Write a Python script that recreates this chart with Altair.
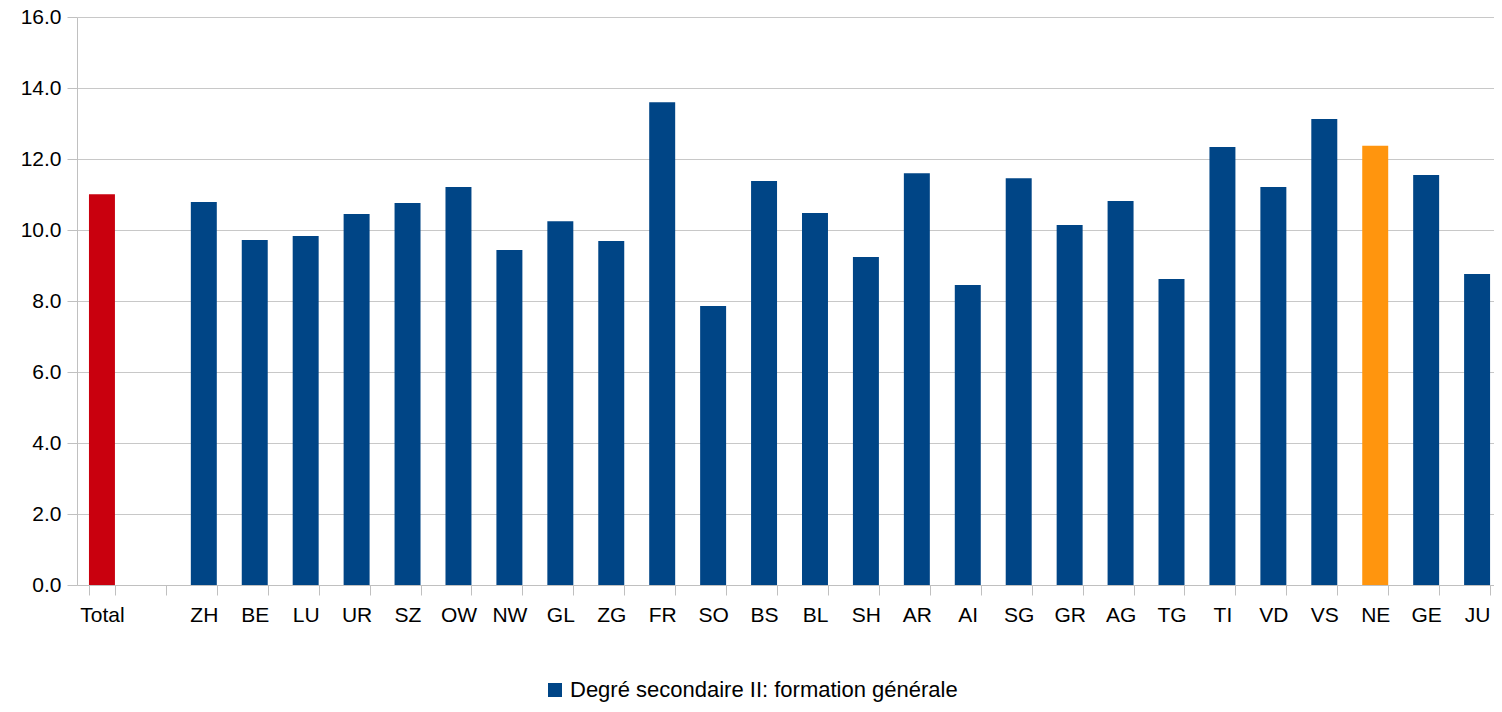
import altair as alt
import pandas as pd

categories = ["Total", " ", "ZH", "BE", "LU", "UR", "SZ", "OW", "NW", "GL", "ZG", "FR", "SO",
              "BS", "BL", "SH", "AR", "AI", "SG", "GR", "AG", "TG", "TI", "VD", "VS", "NE", "GE", "JU"]
values = [11.01, None, 10.79, 9.72, 9.83, 10.45, 10.76, 11.21, 9.44, 10.25, 9.69, 13.60, 7.86,
          11.38, 10.48, 9.24, 11.60, 8.45, 11.46, 10.14, 10.82, 8.62, 12.34, 11.21, 13.13, 12.37, 11.55, 8.76]
series_name = "Degré secondaire II: formation générale"
groups = ["Total", series_name] + [series_name] * 23 + ["NE", series_name, series_name]
group_domain = [series_name, "Total", "NE"]
group_colors = ["#004586", "#C9000E", "#FF950E"]

df = pd.DataFrame({"cat": categories, "value": values, "group": groups})

FONT = "Liberation Sans"
FS = 21

chart = alt.Chart(df).mark_bar().encode(
    x=alt.X("cat:N", sort=categories, title=None,
            scale=alt.Scale(paddingInner=0.49, paddingOuter=0.156, align=0.753, round=False),
            axis=alt.Axis(labelAngle=0, tickBand="extent", tickSize=10, labelPadding=9,
                          domainColor="#c0c0c0", tickColor="#c0c0c0", grid=False,
                          labelFont=FONT, labelFontSize=FS, labelColor="#000000")),
    y=alt.Y("value:Q", title=None,
            scale=alt.Scale(domain=[0, 16], nice=False),
            axis=alt.Axis(values=[0, 2, 4, 6, 8, 10, 12, 14, 16], format=".1f", tickSize=10,
                          labelPadding=6, domainColor="#c0c0c0", tickColor="#c0c0c0",
                          gridColor="#c8c8c8", labelFont=FONT, labelFontSize=FS,
                          labelColor="#000000")),
    color=alt.Color("group:N", title=None,
                    scale=alt.Scale(domain=group_domain, range=group_colors),
                    legend=alt.Legend(values=[series_name], orient="none", legendX=467,
                                      legendY=662, symbolType="square", symbolSize=196,
                                      symbolStrokeWidth=0, labelFont=FONT, labelFontSize=22,
                                      labelColor="#000000", labelOffset=4, labelLimit=700)),
).properties(
    width=1417, height=568,
    autosize=alt.AutoSizeParams(type="none"),
    padding={"left": 69, "top": 9, "right": 0, "bottom": 119},
).configure_view(stroke=None)

chart.save("out.html", embed_options={"renderer": "svg", "actions": False})
